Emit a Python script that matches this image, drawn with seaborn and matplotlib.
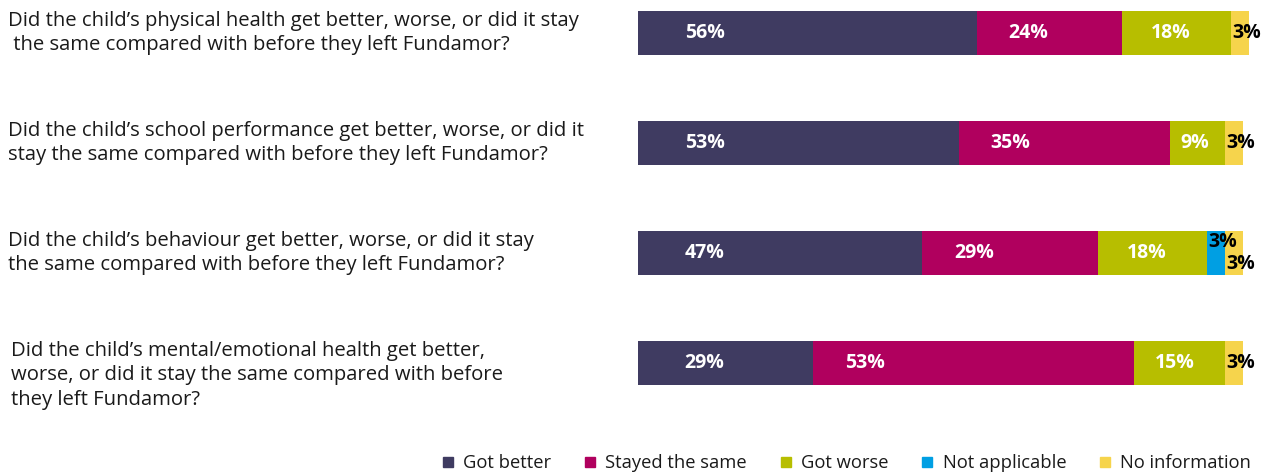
import matplotlib
matplotlib.use("Agg")
import matplotlib.pyplot as plt
import matplotlib.transforms as mtransforms
from matplotlib.lines import Line2D
import numpy as np
import pandas as pd
import seaborn as sns

# Survey questions (one bar each)
questions = [
    "Did the child\u2019s physical health get better, worse, or did it stay\n the same compared with before they left Fundamor?",
    "Did the child\u2019s school performance get better, worse, or did it\nstay the same compared with before they left Fundamor?",
    "Did the child\u2019s behaviour get better, worse, or did it stay\nthe same compared with before they left Fundamor?",
    "Did the child\u2019s mental/emotional health get better,\nworse, or did it stay the same compared with before\nthey left Fundamor?",
]
question_ids = ["Q1", "Q2", "Q3", "Q4"]

# Response shares in percent
responses = ["Got better", "Stayed the same", "Got worse", "Not applicable", "No information"]
got_better = [56, 53, 47, 29]
stayed_same = [24, 35, 29, 53]
got_worse = [18, 9, 18, 15]
not_applicable = [0, 0, 3, 0]
no_information = [3, 3, 3, 3]

colors = ["#3f3b61", "#b0005e", "#b7be00", "#009fe3", "#f6d44c"]

sns.set_theme(style="white")
plt.rcParams["font.family"] = ["Open Sans", "DejaVu Sans"]

df = pd.DataFrame({
    "question": question_ids,
    responses[0]: got_better,
    responses[1]: stayed_same,
    responses[2]: got_worse,
    responses[3]: not_applicable,
    responses[4]: no_information,
})
cum = df[responses].cumsum(axis=1)

fig = plt.figure(figsize=(12.67, 4.75), dpi=100)
ax = fig.add_axes([638 / 1267, 57 / 475, 611 / 1267, 418 / 475])

# Stacked bars: draw cumulative totals from the back layer to the front one
for resp, col in reversed(list(zip(responses, colors))):
    sns.barplot(x=cum[resp], y=df["question"], orient="h", color=col,
                width=0.4, saturation=1, ax=ax, linewidth=0)

ax.set_xlim(0, 101)
ax.set_ylim(3.5, -0.3)
ax.set_xlabel("")
ax.set_ylabel("")
ax.set_xticks([])
ax.set_yticks([])
for s in ax.spines.values():
    s.set_visible(False)

# Segment value labels
for i in range(len(df)):
    start = 0
    small_count = 0
    vals = [df.loc[i, r] for r in responses]
    n_small = sum(1 for v in vals if 0 < v < 5)
    for j, v in enumerate(vals):
        if v <= 0:
            continue
        if v >= 5:
            off = 11 if j == 0 else min(0.45 * v, 8.5)
            ax.text(start + off, i, f"{v}%", color="white", fontsize=14,
                    fontweight="bold", ha="center", va="center")
        else:
            dy = 0
            if n_small > 1:
                dy = -0.1 if small_count == 0 else 0.1
            ax.text(start + 0.3, i + dy, f"{v}%", color="black", fontsize=14,
                    fontweight="bold", ha="left", va="center")
            small_count += 1
        start += v

# Question text on the left
trans = mtransforms.blended_transform_factory(fig.transFigure, ax.transData)
q_offsets = [0, 0, 0, 0.11]
q_x = [8, 8, 8, 11]
for i, q in enumerate(questions):
    ax.text(q_x[i] / 1267, i + q_offsets[i], q, transform=trans, ha="left",
            va="center", fontsize=14.6, color="#1a1a1a", linespacing=1.3)

# Legend along the bottom
handles = [Line2D([0], [0], marker="s", linestyle="", markersize=7.5,
                  markerfacecolor=c, markeredgecolor=c) for c in colors]
fig.legend(handles, responses, loc="center", ncol=5,
           bbox_to_anchor=(844 / 1267, 1 - 463 / 475), frameon=False,
           fontsize=13.2, handletextpad=0.25, columnspacing=1.5,
           handlelength=1.2, labelcolor="#1a1a1a")

fig.savefig("out.png", dpi=100, facecolor="white")
